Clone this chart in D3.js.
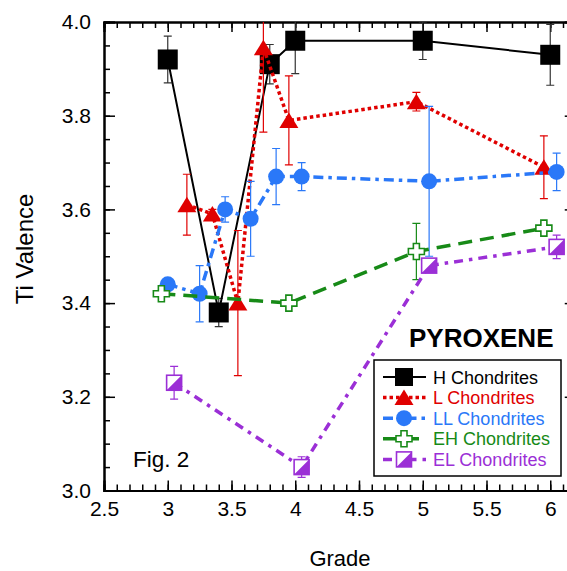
<!DOCTYPE html>
<html lang="en">
<head>
  <meta charset="UTF-8">
  <title>Ti Valence - Pyroxene</title>
  <script src="https://d3js.org/d3.v7.min.js"></script>
  <style>
    body { margin: 0; background: #fff; }
    text { font-family: "Liberation Sans", Arial, Helvetica, sans-serif; }
    .axis path { stroke: #000; stroke-width: 2; }
    .axis line { stroke: #000; stroke-width: 1.5; }
    .axis text { font-size: 21px; fill: #000; }
  </style>
</head>
<body>
  <svg id="chart" width="567" height="571"></svg>
  <script>
    // values
    const xTickLabels = ["2.5", "3", "3.5", "4", "4.5", "5", "5.5", "6"];
    const yTickLabels = ["3.0", "3.2", "3.4", "3.6", "3.8", "4.0"];

    const hGrade = [3.0, 3.4, 3.8, 4.0, 5.0, 6.0];
    const hTi = [3.92, 3.38, 3.91, 3.96, 3.96, 3.93];
    const hErr = [0.05, 0.03, 0.042, 0.07, 0.04, 0.065];

    const lGrade = [3.15, 3.35, 3.55, 3.75, 3.95, 4.95, 5.95];
    const lTi = [3.61, 3.59, 3.40, 3.945, 3.79, 3.83, 3.69];
    const lErr = [0.065, 0.01, 0.155, 0.18, 0.095, 0.02, 0.067];

    const llGrade = [3.0, 3.25, 3.45, 3.65, 3.85, 4.05, 5.05, 6.05];
    const llTi = [3.44, 3.42, 3.60, 3.58, 3.67, 3.67, 3.66, 3.68];
    const llErr = [0, 0.06, 0.027, 0.08, 0.06, 0.03, 0.16, 0.04];

    const ehGrade = [2.95, 3.95, 4.95, 5.95];
    const ehTi = [3.42, 3.40, 3.51, 3.56];
    const ehErr = [0, 0, 0.06, 0];

    const elGrade = [3.05, 4.05, 5.05, 6.05];
    const elTi = [3.23, 3.05, 3.48, 3.52];
    const elErr = [0.035, 0.022, 0.01, 0.025];

    const seriesNames = ["H Chondrites", "L Chondrites", "LL Chondrites", "EH Chondrites", "EL Chondrites"];

    const series = [
      { name: seriesNames[0], grade: hGrade, ti: hTi, err: hErr, color: "#000000", errColor: "#333333", dash: null, width: 2, marker: "square" },
      { name: seriesNames[1], grade: lGrade, ti: lTi, err: lErr, color: "#e00000", errColor: "#e00000", dash: "3.5,3", width: 3.5, marker: "triangle" },
      { name: seriesNames[2], grade: llGrade, ti: llTi, err: llErr, color: "#2a78f8", errColor: "#2a78f8", dash: "10,5,3.5,5", width: 3.5, marker: "circle" },
      { name: seriesNames[3], grade: ehGrade, ti: ehTi, err: ehErr, color: "#178a17", errColor: "#178a17", dash: "14,8", width: 3.5, marker: "cross" },
      { name: seriesNames[4], grade: elGrade, ti: elTi, err: elErr, color: "#9b2fd6", errColor: "#9b2fd6", dash: "9,6,3.5,6", width: 3.5, marker: "halfsquare" }
    ];

    const svg = d3.select("#chart");

    const x = d3.scaleLinear().domain([2.5, 6.2]).range([104, 575.75]);
    const y = d3.scaleLinear().domain([3.0, 4.0]).range([490.5, 22]);

    svg.append("clipPath").attr("id", "plot-clip")
      .append("rect")
      .attr("x", x(2.5)).attr("y", y(4.0))
      .attr("width", x(6.2) - x(2.5)).attr("height", y(3.0) - y(4.0));

    // minor ticks
    const xMinor = d3.range(25, 63).map(d => d / 10);
    const yMinor = d3.range(60, 81).map(d => d / 20);

    function minor(axis, vals) {
      return axis.tickValues(vals).tickSize(-6).tickFormat("");
    }

    svg.append("g").attr("class", "axis").attr("transform", `translate(0,${y(3.0)})`)
      .call(minor(d3.axisBottom(x), xMinor));
    svg.append("g").attr("class", "axis").attr("transform", `translate(0,${y(4.0)})`)
      .call(minor(d3.axisTop(x), xMinor));
    svg.append("g").attr("class", "axis").attr("transform", `translate(${x(2.5)},0)`)
      .call(minor(d3.axisLeft(y), yMinor));
    svg.append("g").attr("class", "axis").attr("transform", `translate(${x(6.2)},0)`)
      .call(minor(d3.axisRight(y), yMinor));

    // major ticks
    svg.append("g").attr("class", "axis").attr("transform", `translate(0,${y(3.0)})`)
      .call(d3.axisBottom(x).tickValues(xTickLabels.map(Number)).tickSize(-10).tickPadding(11)
        .tickFormat((d, i) => xTickLabels[i]));
    svg.append("g").attr("class", "axis").attr("transform", `translate(0,${y(4.0)})`)
      .call(d3.axisTop(x).tickValues(xTickLabels.map(Number)).tickSize(-10).tickFormat(""));
    svg.append("g").attr("class", "axis").attr("transform", `translate(${x(2.5)},0)`)
      .call(d3.axisLeft(y).tickValues(yTickLabels.map(Number)).tickSize(-11).tickPadding(13)
        .tickFormat((d, i) => yTickLabels[i]));
    svg.append("g").attr("class", "axis").attr("transform", `translate(${x(6.2)},0)`)
      .call(d3.axisRight(y).tickValues(yTickLabels.map(Number)).tickSize(-11).tickFormat(""));

    // axis titles
    svg.append("text")
      .attr("x", 340).attr("y", 566)
      .attr("text-anchor", "middle")
      .style("font-size", "22px")
      .text("Grade");

    svg.append("text")
      .attr("transform", "translate(33,249) rotate(-90)")
      .attr("text-anchor", "middle")
      .style("font-size", "24px")
      .text("Ti Valence");

    svg.append("text")
      .attr("x", 133).attr("y", 467)
      .style("font-size", "22.5px")
      .text("Fig. 2");

    svg.append("text")
      .attr("x", 409).attr("y", 347)
      .style("font-size", "26px").style("font-weight", "bold")
      .text("PYROXENE");

    function drawMarker(g, type, color) {
      if (type === "square") {
        g.append("rect").attr("x", -10).attr("y", -10).attr("width", 20).attr("height", 20)
          .attr("fill", color);
      } else if (type === "triangle") {
        g.append("path").attr("d", "M0,-8L9.5,7.5L-9.5,7.5Z").attr("fill", color);
      } else if (type === "circle") {
        g.append("circle").attr("r", 8).attr("fill", color);
      } else if (type === "cross") {
        const a = 3, b = 8;
        g.append("path")
          .attr("d", `M${-a},${-b}H${a}V${-a}H${b}V${a}H${a}V${b}H${-a}V${a}H${-b}V${-a}H${-a}Z`)
          .attr("fill", "#fff").attr("stroke", color).attr("stroke-width", 1.6);
      } else if (type === "halfsquare") {
        const s = 7.5;
        g.append("rect").attr("x", -s).attr("y", -s).attr("width", 2 * s).attr("height", 2 * s)
          .attr("fill", "#fff").attr("stroke", color).attr("stroke-width", 1.6);
        g.append("path").attr("d", `M${-s},${s}L${s},${-s}L${s},${s}Z`).attr("fill", color);
      }
    }

    const plot = svg.append("g").attr("clip-path", "url(#plot-clip)");

    series.forEach(s => {
      const pts = s.grade.map((g, i) => ({ g: g, v: s.ti[i], e: s.err[i] }));
      const grp = plot.append("g");

      // error bars
      const eb = grp.selectAll(".err").data(pts.filter(d => d.e > 0)).enter().append("g")
        .attr("stroke", s.errColor).attr("stroke-width", 1.2);
      eb.append("line")
        .attr("x1", d => x(d.g)).attr("x2", d => x(d.g))
        .attr("y1", d => y(d.v + d.e)).attr("y2", d => y(d.v - d.e));
      eb.append("line")
        .attr("x1", d => x(d.g) - 4).attr("x2", d => x(d.g) + 4)
        .attr("y1", d => y(d.v + d.e)).attr("y2", d => y(d.v + d.e));
      eb.append("line")
        .attr("x1", d => x(d.g) - 4).attr("x2", d => x(d.g) + 4)
        .attr("y1", d => y(d.v - d.e)).attr("y2", d => y(d.v - d.e));

      // line
      grp.append("path")
        .datum(pts)
        .attr("fill", "none")
        .attr("stroke", s.color)
        .attr("stroke-width", s.width)
        .attr("stroke-dasharray", s.dash)
        .attr("d", d3.line().x(d => x(d.g)).y(d => y(d.v)));

      // markers
      grp.selectAll(".mk").data(pts).enter().append("g")
        .attr("transform", d => `translate(${x(d.g)},${y(d.v)})`)
        .each(function () { drawMarker(d3.select(this), s.marker, s.color); });
    });

    // legend
    const legend = svg.append("g");
    legend.append("rect")
      .attr("x", 374).attr("y", 360).attr("width", 187).attr("height", 116)
      .attr("fill", "#fff").attr("stroke", "#000").attr("stroke-width", 1.5);

    series.forEach((s, i) => {
      const ly = 377 + i * 20.6;
      const row = legend.append("g");
      row.append("line")
        .attr("x1", 383).attr("x2", 426).attr("y1", ly).attr("y2", ly)
        .attr("stroke", s.color).attr("stroke-width", s.width)
        .attr("stroke-dasharray", s.dash);
      const m = row.append("g").attr("transform", `translate(404,${ly})`);
      drawMarker(m, s.marker, s.color);
      if (s.marker === "square") m.attr("transform", `translate(404,${ly}) scale(0.9)`);
      row.append("text")
        .attr("x", 433).attr("y", ly + 6.5)
        .style("font-size", "18px")
        .attr("fill", s.color)
        .text(s.name);
    });
  </script>
</body>
</html>
